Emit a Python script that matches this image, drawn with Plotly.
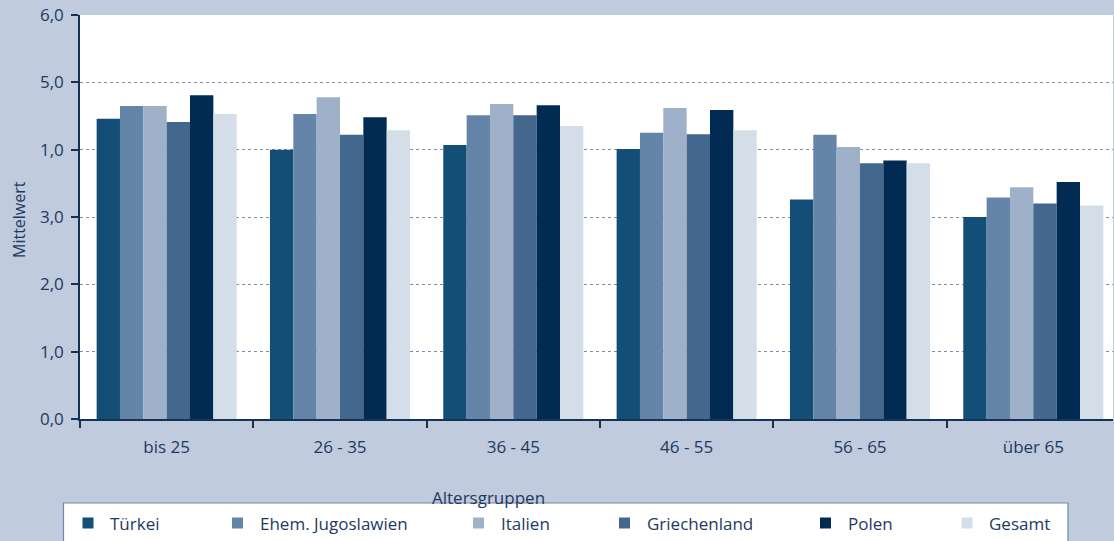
import plotly.graph_objects as go

categories = ["bis 25", "26 - 35", "36 - 45", "46 - 55", "56 - 65", "über 65"]
series_names = ["Türkei", "Ehem. Jugoslawien", "Italien", "Griechenland", "Polen", "Gesamt"]
tuerkei = [4.46, 4.00, 4.07, 4.01, 3.26, 3.00]
jugoslawien = [4.65, 4.53, 4.51, 4.25, 4.22, 3.29]
italien = [4.65, 4.78, 4.68, 4.62, 4.04, 3.44]
griechenland = [4.41, 4.22, 4.51, 4.23, 3.80, 3.20]
polen = [4.81, 4.48, 4.66, 4.59, 3.84, 3.52]
gesamt = [4.53, 4.29, 4.35, 4.29, 3.80, 3.17]
series_values = [tuerkei, jugoslawien, italien, griechenland, polen, gesamt]
y_tickvals = [0, 1, 2, 3, 4, 5, 6]
y_ticktext = ["0,0", "1,0", "2,0", "3,0", "1,0", "5,0", "6,0"]

colors = ["#124e75", "#6585a8", "#9fb0c9", "#43678d", "#022b54", "#d4dee8"]
bg = "#c0cbdd"
txt = "#1d3a60"
axc = "#123257"
FONT = "Open Sans"

W, H = 1114, 541
L, R, T, B = 80, 1, 15, 122
pw = W - L - R
ph = H - T - B


def px_x(px):
    return (px - L) / pw


def px_y(py):
    return (H - B - py) / ph


fig = go.Figure()
for name, vals, col in zip(series_names, series_values, colors):
    fig.add_trace(go.Bar(x=categories, y=vals, name=name,
                         marker=dict(color=col, line=dict(width=0)),
                         showlegend=False))

fig.update_layout(
    width=W, height=H,
    margin=dict(l=L, r=R, t=T, b=B, pad=0),
    paper_bgcolor=bg, plot_bgcolor="white",
    barmode="group", bargap=0.192, bargroupgap=0,
    font=dict(family=FONT, size=17, color=txt),
)
fig.update_xaxes(
    range=[-0.5, -0.5 + pw / 173.33], tickson="boundaries",
    showline=True, linecolor=axc, linewidth=1.5,
    ticks="outside", ticklen=7, tickcolor=axc, tickwidth=1.5,
    ticklabelstandoff=12, showgrid=False, zeroline=False,
    tickfont=dict(family=FONT, size=17, color=txt),
)
fig.update_yaxes(
    range=[0, 6], tickvals=y_tickvals, ticktext=y_ticktext,
    showline=True, linecolor=axc, linewidth=1.5, mirror=False,
    ticks="outside", ticklen=7, tickcolor=axc, tickwidth=1.5,
    ticklabelstandoff=4,
    showgrid=True, gridcolor="#7890b3", griddash="dot", gridwidth=1,
    zeroline=False,
    tickfont=dict(family=FONT, size=17, color=txt),
)

annotations = [
    dict(text="Mittelwert", textangle=-90, x=px_x(19), y=px_y(220),
         xref="paper", yref="paper", xanchor="center", yanchor="middle",
         showarrow=False, font=dict(family=FONT, size=16, color=txt)),
    dict(text="Altersgruppen", x=px_x(488), y=px_y(497),
         xref="paper", yref="paper", xanchor="center", yanchor="middle",
         showarrow=False, font=dict(family=FONT, size=17, color=txt)),
]
shapes = [
    dict(type="rect", xref="paper", yref="paper",
         x0=px_x(63.5), x1=px_x(1068), y0=px_y(503), y1=px_y(560),
         fillcolor="white", line=dict(color="#6f88aa", width=1.2), layer="above"),
]
marker_x = [88, 237.5, 478.5, 624.5, 825.5, 967]
for mx, name, col in zip(marker_x, series_names, colors):
    shapes.append(dict(type="rect", xref="paper", yref="paper",
                       x0=px_x(mx - 5.5), x1=px_x(mx + 5.5),
                       y0=px_y(517.5), y1=px_y(528.5),
                       fillcolor=col, line=dict(width=0), layer="above"))
    annotations.append(dict(text=name, x=px_x(mx + 20), y=px_y(523),
                            xref="paper", yref="paper", xanchor="left",
                            yanchor="middle", showarrow=False,
                            font=dict(family=FONT, size=17, color=txt)))
fig.update_layout(shapes=shapes, annotations=annotations)

fig.write_html("out.html", config={"displayModeBar": False},
               post_script="document.body.style.margin='0';document.body.style.overflow='hidden';")
